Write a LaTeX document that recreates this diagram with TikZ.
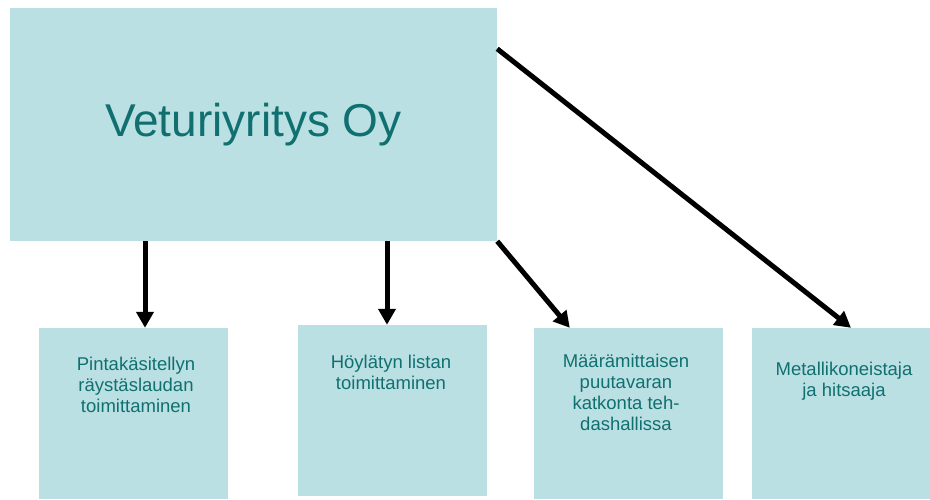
\documentclass[tikz,border=0pt]{standalone}
\usepackage{fontspec}
\setmainfont{Liberation Sans}
\usetikzlibrary{arrows.meta, positioning, calc}
\definecolor{boxfill}{RGB}{187,224,227}
\definecolor{boxtext}{RGB}{16,112,112}

\begin{document}
\begin{tikzpicture}[x=1pt, y=-1pt,
  box/.style={fill=boxfill, draw=none, inner sep=0pt, minimum width=189pt, minimum height=171pt},
  lbl/.style={text=boxtext, align=center, inner sep=0pt, anchor=north, font=\fontsize{18.5}{20.7}\selectfont},
  arr/.style={line width=5pt, -{Triangle[length=16pt,width=17pt]}}]
\useasboundingbox (0,0) rectangle (930,499);

% Main company
\node[box, minimum width=487pt, minimum height=233pt, text=boxtext,
      font=\fontsize{46}{55}\selectfont] (main) at (253.5,124.5) {Veturiyritys Oy};

% Task boxes
\node[box] (b1) at (133.5,413.5) {};
\node[box] (b2) at (392.5,410.5) {};
\node[box] (b3) at (628.5,413.5) {};
\node[box, minimum width=178pt] (b4) at (841,413.5) {};

\node[lbl] (t1) at ([xshift=2.5pt,yshift=-29.5pt]b1.north) {Pintakäsitellyn\\räystäslaudan\\toimittaminen};
\node[lbl] (t2) at ([xshift=-1.5pt,yshift=-30.5pt]b2.north) {Höylätyn listan\\toimittaminen};
\node[lbl] (t3) at ([xshift=-2.5pt,yshift=-26.5pt]b3.north) {Määrämittaisen\\puutavaran\\katkonta teh-\\dashallissa};
\node[lbl] (t4) at ([xshift=3pt,yshift=-34.5pt]b4.north) {Metallikoneistaja\\ja hitsaaja};

% Arrows
\foreach \b/\dx in {b1/11.5, b2/-5.5} {
    \draw[arr] ([xshift=\dx pt]\b.north |- main.south) -- ([xshift=\dx pt]\b.north);
}
\draw[arr] (main.south east) -- ([xshift=36pt]b3.north west);
\draw[arr] ([yshift=-41pt]main.north east) -- ([xshift=10pt]b4.north);
\end{tikzpicture}
\end{document}
